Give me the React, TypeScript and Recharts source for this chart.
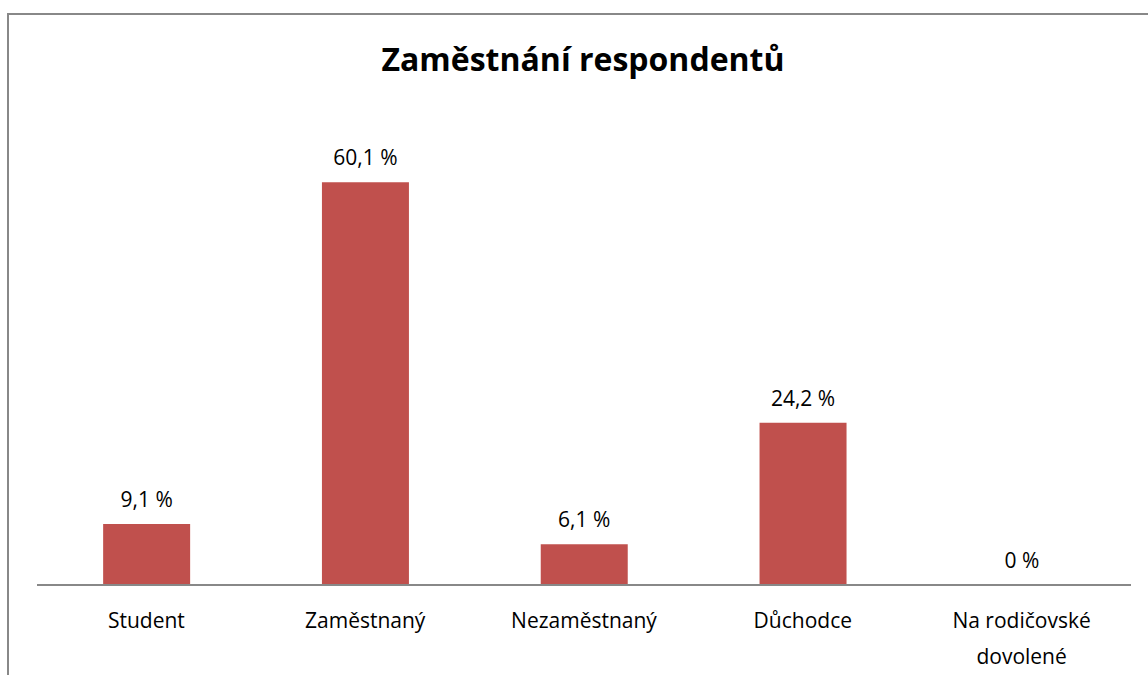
import React from "react";
import { Bar, BarChart, Cell, LabelList, XAxis, YAxis } from "recharts";

const categories = ["Student", "Zaměstnaný", "Nezaměstnaný", "Důchodce", "Na rodičovské dovolené"];
const shares = [9.1, 60.1, 6.1, 24.2, 0];
const tickLines: Record<string, string[]> = {
  "Na rodičovské dovolené": ["Na rodičovské", "dovolené"],
};

const data = categories.map((name, i) => ({ name, value: shares[i] }));

const font = "'Open Sans', 'Noto Sans', sans-serif";

function CategoryTick(props: any) {
  const { x, y, payload } = props;
  const lines = tickLines[payload.value] ?? [payload.value];
  return (
    <text x={x} y={y} textAnchor="middle" fill="#000" fontSize={21} fontFamily={font}>
      {lines.map((line, i) => (
        <tspan key={i} x={x} dy={i === 0 ? 35 : 36}>
          {line}
        </tspan>
      ))}
    </text>
  );
}

export default function App() {
  return (
    <div style={{ position: "fixed", inset: 0, overflow: "hidden", background: "#fff" }}>
      <div
        style={{
          position: "absolute",
          left: 7,
          top: 13,
          width: 1200,
          height: 720,
          borderLeft: "2px solid #888",
          borderTop: "2px solid #888",
        }}
      />
      <div
        style={{
          position: "absolute",
          left: 0,
          top: 37,
          width: 1166,
          textAlign: "center",
          fontFamily: font,
          fontWeight: 700,
          fontSize: 32,
          lineHeight: "44px",
          color: "#000",
        }}
      >
        Zaměstnání respondentů
      </div>
      <div style={{ position: "absolute", left: 0, top: 0 }}>
        <BarChart
          width={1148}
          height={675}
          data={data}
          margin={{ top: 116, right: 17, bottom: 0, left: 37 }}
          barCategoryGap="30%"
        >
          <XAxis
            dataKey="name"
            height={90}
            interval={0}
            tickLine={false}
            axisLine={{ stroke: "#888", strokeWidth: 2 }}
            tick={<CategoryTick />}
          />
          <YAxis hide domain={[0, 70]} />
          <Bar dataKey="value" fill="#C0504D" isAnimationActive={false} maxBarSize={87} minPointSize={0.5}>
            {data.map((d) => (
              <Cell key={d.name} fill={d.value > 0 ? "#C0504D" : "transparent"} />
            ))}
            <LabelList
              dataKey="value"
              position="top"
              offset={17}
              fill="#000"
              fontSize={21}
              fontFamily={font}
              formatter={(v: any) => `${String(v).replace(".", ",")} %`}
            />
          </Bar>
        </BarChart>
      </div>
    </div>
  );
}
